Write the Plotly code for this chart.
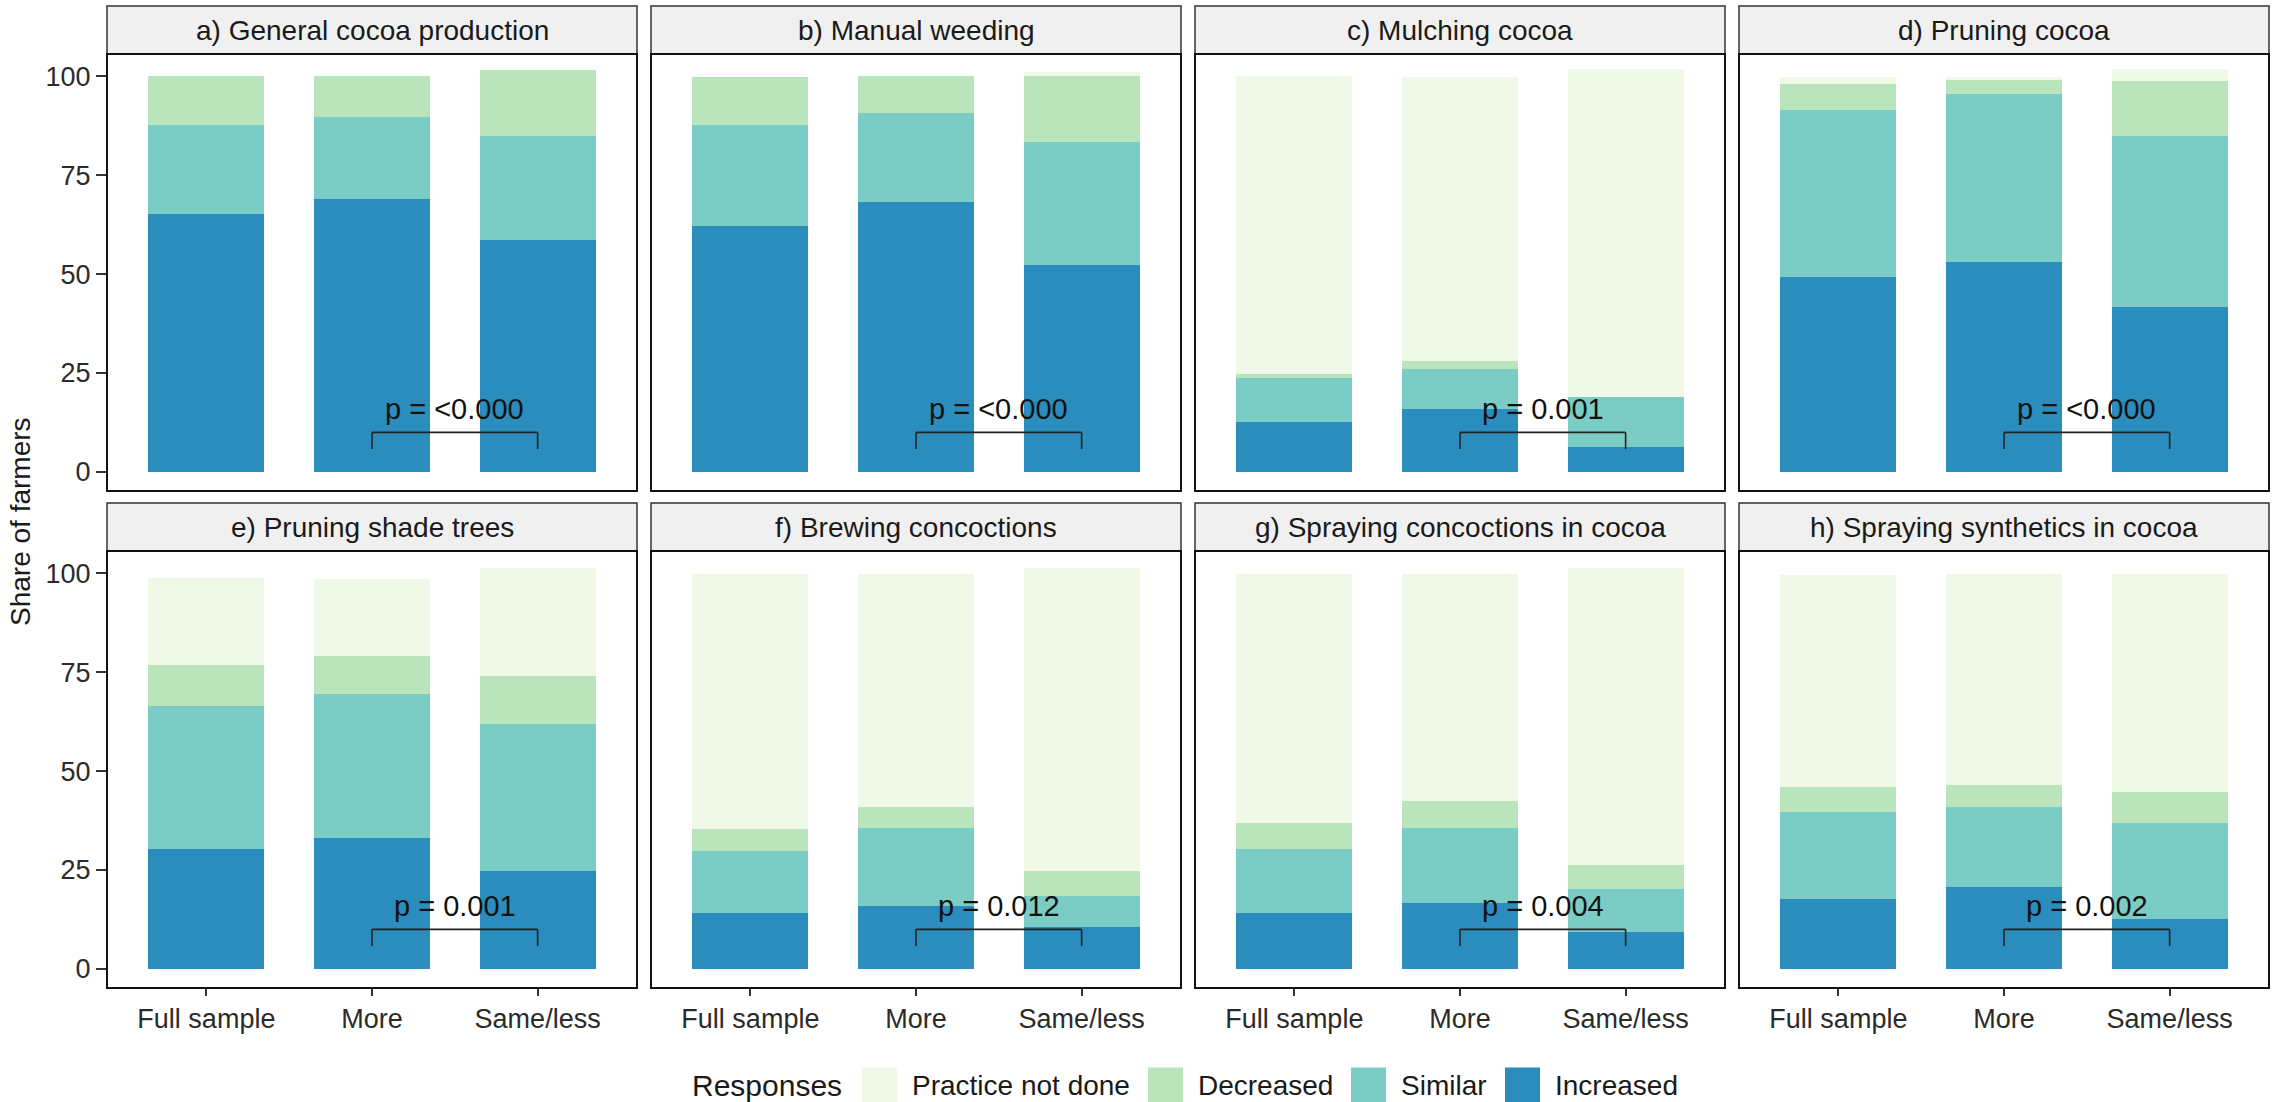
import plotly.graph_objects as go

# ---- data -------------------------------------------------------------
GROUPS = ["Full sample", "More", "Same/less"]

PANEL_TITLES = [
    "a) General cocoa production",
    "b) Manual weeding",
    "c) Mulching cocoa",
    "d) Pruning cocoa",
    "e) Pruning shade trees",
    "f) Brewing concoctions",
    "g) Spraying concoctions in cocoa",
    "h) Spraying synthetics in cocoa",
]

P_LABELS = [
    "p = <0.000", "p = <0.000", "p = 0.001", "p = <0.000",
    "p = 0.001", "p = 0.012", "p = 0.004", "p = 0.002",
]

# share of farmers (%) per panel, in GROUPS order
INCREASED = [
    [65.1, 68.9, 58.6],
    [62.1, 68.1, 52.4],
    [12.7, 15.9, 6.4],
    [49.2, 53.1, 41.8],
    [30.2, 33.2, 24.7],
    [14.2, 15.9, 10.7],
    [14.1, 16.6, 9.3],
    [17.8, 20.6, 12.7],
]
SIMILAR = [
    [22.5, 20.8, 26.2],
    [25.5, 22.5, 30.9],
    [11.0, 10.2, 12.5],
    [42.2, 42.3, 43.0],
    [36.3, 36.3, 37.2],
    [15.6, 19.6, 7.7],
    [16.1, 18.9, 11.0],
    [21.8, 20.4, 24.3],
]
DECREASED = [
    [12.4, 10.3, 16.7],
    [12.1, 9.4, 16.7],
    [1.0, 1.9, 0.0],
    [6.6, 3.6, 14.0],
    [10.3, 9.5, 12.1],
    [5.5, 5.5, 6.3],
    [6.8, 7.0, 6.1],
    [6.3, 5.5, 7.6],
]
NOT_DONE = [
    [0.0, 0.0, 0.0],
    [0.0, 0.0, 1.0],
    [75.3, 71.7, 82.8],
    [1.8, 0.7, 2.9],
    [22.0, 19.6, 27.3],
    [64.6, 58.9, 76.6],
    [62.9, 57.4, 74.9],
    [53.6, 53.4, 55.3],
]

RESPONSES = ["Increased", "Similar", "Decreased", "Practice not done"]
COLORS = ["#2B8CBE", "#7BCCC4", "#BAE4BC", "#F0F9E8"]
SERIES = [INCREASED, SIMILAR, DECREASED, NOT_DONE]

Y_TICKS = [0, 25, 50, 75, 100]

# ---- layout geometry (pixels) -------------------------------------------
W, H = 2275, 1102
COL_LEFT = [107, 651, 1195, 1739]
PANEL_W = 530
STRIP_TOP = [6, 503]
STRIP_H = 48
PLOT_H = 437
Y_RANGE = [-4.8, 105.6]
X_RANGE = [-0.6, 2.6]
BAR_W = 0.7
BRACKET_Y = 10.0
BRACKET_TIP = 4.2

FONT = "Liberation Sans, Arial, sans-serif"


def fx(px):
    return px / W


def fy(py):
    return 1 - py / H


fig = go.Figure()
layout = dict(
    width=W, height=H,
    margin=dict(l=0, r=0, t=0, b=0),
    paper_bgcolor="white", plot_bgcolor="white",
    barmode="stack", showlegend=False,
    font=dict(family=FONT, color="#1a1a1a"),
)
shapes = []
annotations = []

for k, title in enumerate(PANEL_TITLES):
    row, col = divmod(k, 4)
    ax = "" if k == 0 else str(k + 1)
    x0p = COL_LEFT[col]
    x1p = x0p + PANEL_W
    st = STRIP_TOP[row]
    p_top = st + STRIP_H
    p_bot = p_top + PLOT_H

    for name, color, values in zip(RESPONSES, COLORS, SERIES):
        fig.add_trace(go.Bar(
            x=GROUPS, y=values[k], name=name,
            marker=dict(color=color, line=dict(width=0)),
            width=BAR_W, xaxis="x" + ax, yaxis="y" + ax,
            showlegend=False,
        ))

    layout["xaxis" + ax] = dict(
        domain=[fx(x0p), fx(x1p)], anchor="y" + ax,
        type="category", categoryorder="array", categoryarray=GROUPS,
        range=X_RANGE, showgrid=False, zeroline=False, showline=False,
        ticks="outside" if row == 1 else "", ticklen=7, tickwidth=1.5,
        tickcolor="#333333", showticklabels=(row == 1),
        tickfont=dict(size=27, color="#2b2b2b", family=FONT),
        fixedrange=True,
    )
    layout["yaxis" + ax] = dict(
        domain=[fy(p_bot), fy(p_top)], anchor="x" + ax,
        range=Y_RANGE, tickvals=Y_TICKS, showgrid=False, zeroline=False,
        showline=False, ticks="outside" if col == 0 else "", ticklen=10,
        tickwidth=1.5, tickcolor="#333333", showticklabels=(col == 0),
        tickfont=dict(size=27, color="#2b2b2b", family=FONT),
        fixedrange=True,
    )

    # strip
    shapes.append(dict(
        type="rect", xref="paper", yref="paper",
        x0=fx(x0p), x1=fx(x1p), y0=fy(p_top), y1=fy(st),
        fillcolor="#F0F0F0", line=dict(color="#333333", width=1.5),
        layer="above",
    ))
    annotations.append(dict(
        text=title, xref="paper", yref="paper",
        x=fx((x0p + x1p) / 2), y=fy(st + STRIP_H / 2),
        xanchor="center", yanchor="middle", showarrow=False,
        font=dict(size=28, color="#1a1a1a", family=FONT),
    ))
    # panel border
    shapes.append(dict(
        type="rect", xref="paper", yref="paper",
        x0=fx(x0p), x1=fx(x1p), y0=fy(p_bot), y1=fy(p_top),
        fillcolor="rgba(0,0,0,0)", line=dict(color="#111111", width=2),
        layer="above",
    ))

    # significance bracket between "More" and "Same/less"
    xa = GROUPS.index("More")
    xb = GROUPS.index("Same/less")
    xr, yr = "x" + ax, "y" + ax
    bracket_line = dict(color="#222222", width=1.6)
    shapes.append(dict(type="line", xref=xr, yref=yr, x0=xa, x1=xb,
                       y0=BRACKET_Y, y1=BRACKET_Y, line=bracket_line,
                       layer="above"))
    for xv in (xa, xb):
        shapes.append(dict(type="line", xref=xr, yref=yr, x0=xv, x1=xv,
                           y0=BRACKET_Y, y1=BRACKET_Y - BRACKET_TIP,
                           line=bracket_line, layer="above"))
    annotations.append(dict(
        text=P_LABELS[k], xref=xr, yref=yr, x=(xa + xb) / 2,
        y=BRACKET_Y + 5.8, xanchor="center", yanchor="middle",
        showarrow=False, font=dict(size=29, color="#111111", family=FONT),
    ))

# y-axis title
annotations.append(dict(
    text="Share of farmers", xref="paper", yref="paper",
    x=fx(21), y=fy(522), xanchor="center", yanchor="middle",
    textangle=-90, showarrow=False,
    font=dict(size=28, color="#1a1a1a", family=FONT),
))

# legend drawn along the bottom
LEG_Y = 1085
SW = 35
annotations.append(dict(
    text="Responses", xref="paper", yref="paper", x=fx(690), y=fy(LEG_Y),
    xanchor="left", yanchor="middle", showarrow=False,
    font=dict(size=30, color="#1a1a1a", family=FONT),
))
legend_items = list(zip(RESPONSES, COLORS))[::-1]
swatch_left = [862, 1148, 1351, 1505]
for (name, color), sx in zip(legend_items, swatch_left):
    shapes.append(dict(
        type="rect", xref="paper", yref="paper",
        x0=fx(sx), x1=fx(sx + SW), y0=fy(LEG_Y + SW / 2), y1=fy(LEG_Y - SW / 2),
        fillcolor=color, line=dict(width=0),
    ))
    annotations.append(dict(
        text=name, xref="paper", yref="paper", x=fx(sx + SW + 13),
        y=fy(LEG_Y), xanchor="left", yanchor="middle", showarrow=False,
        font=dict(size=28, color="#1a1a1a", family=FONT),
    ))

layout["shapes"] = shapes
layout["annotations"] = annotations
fig.update_layout(**layout)

fig.write_html("out.html")
